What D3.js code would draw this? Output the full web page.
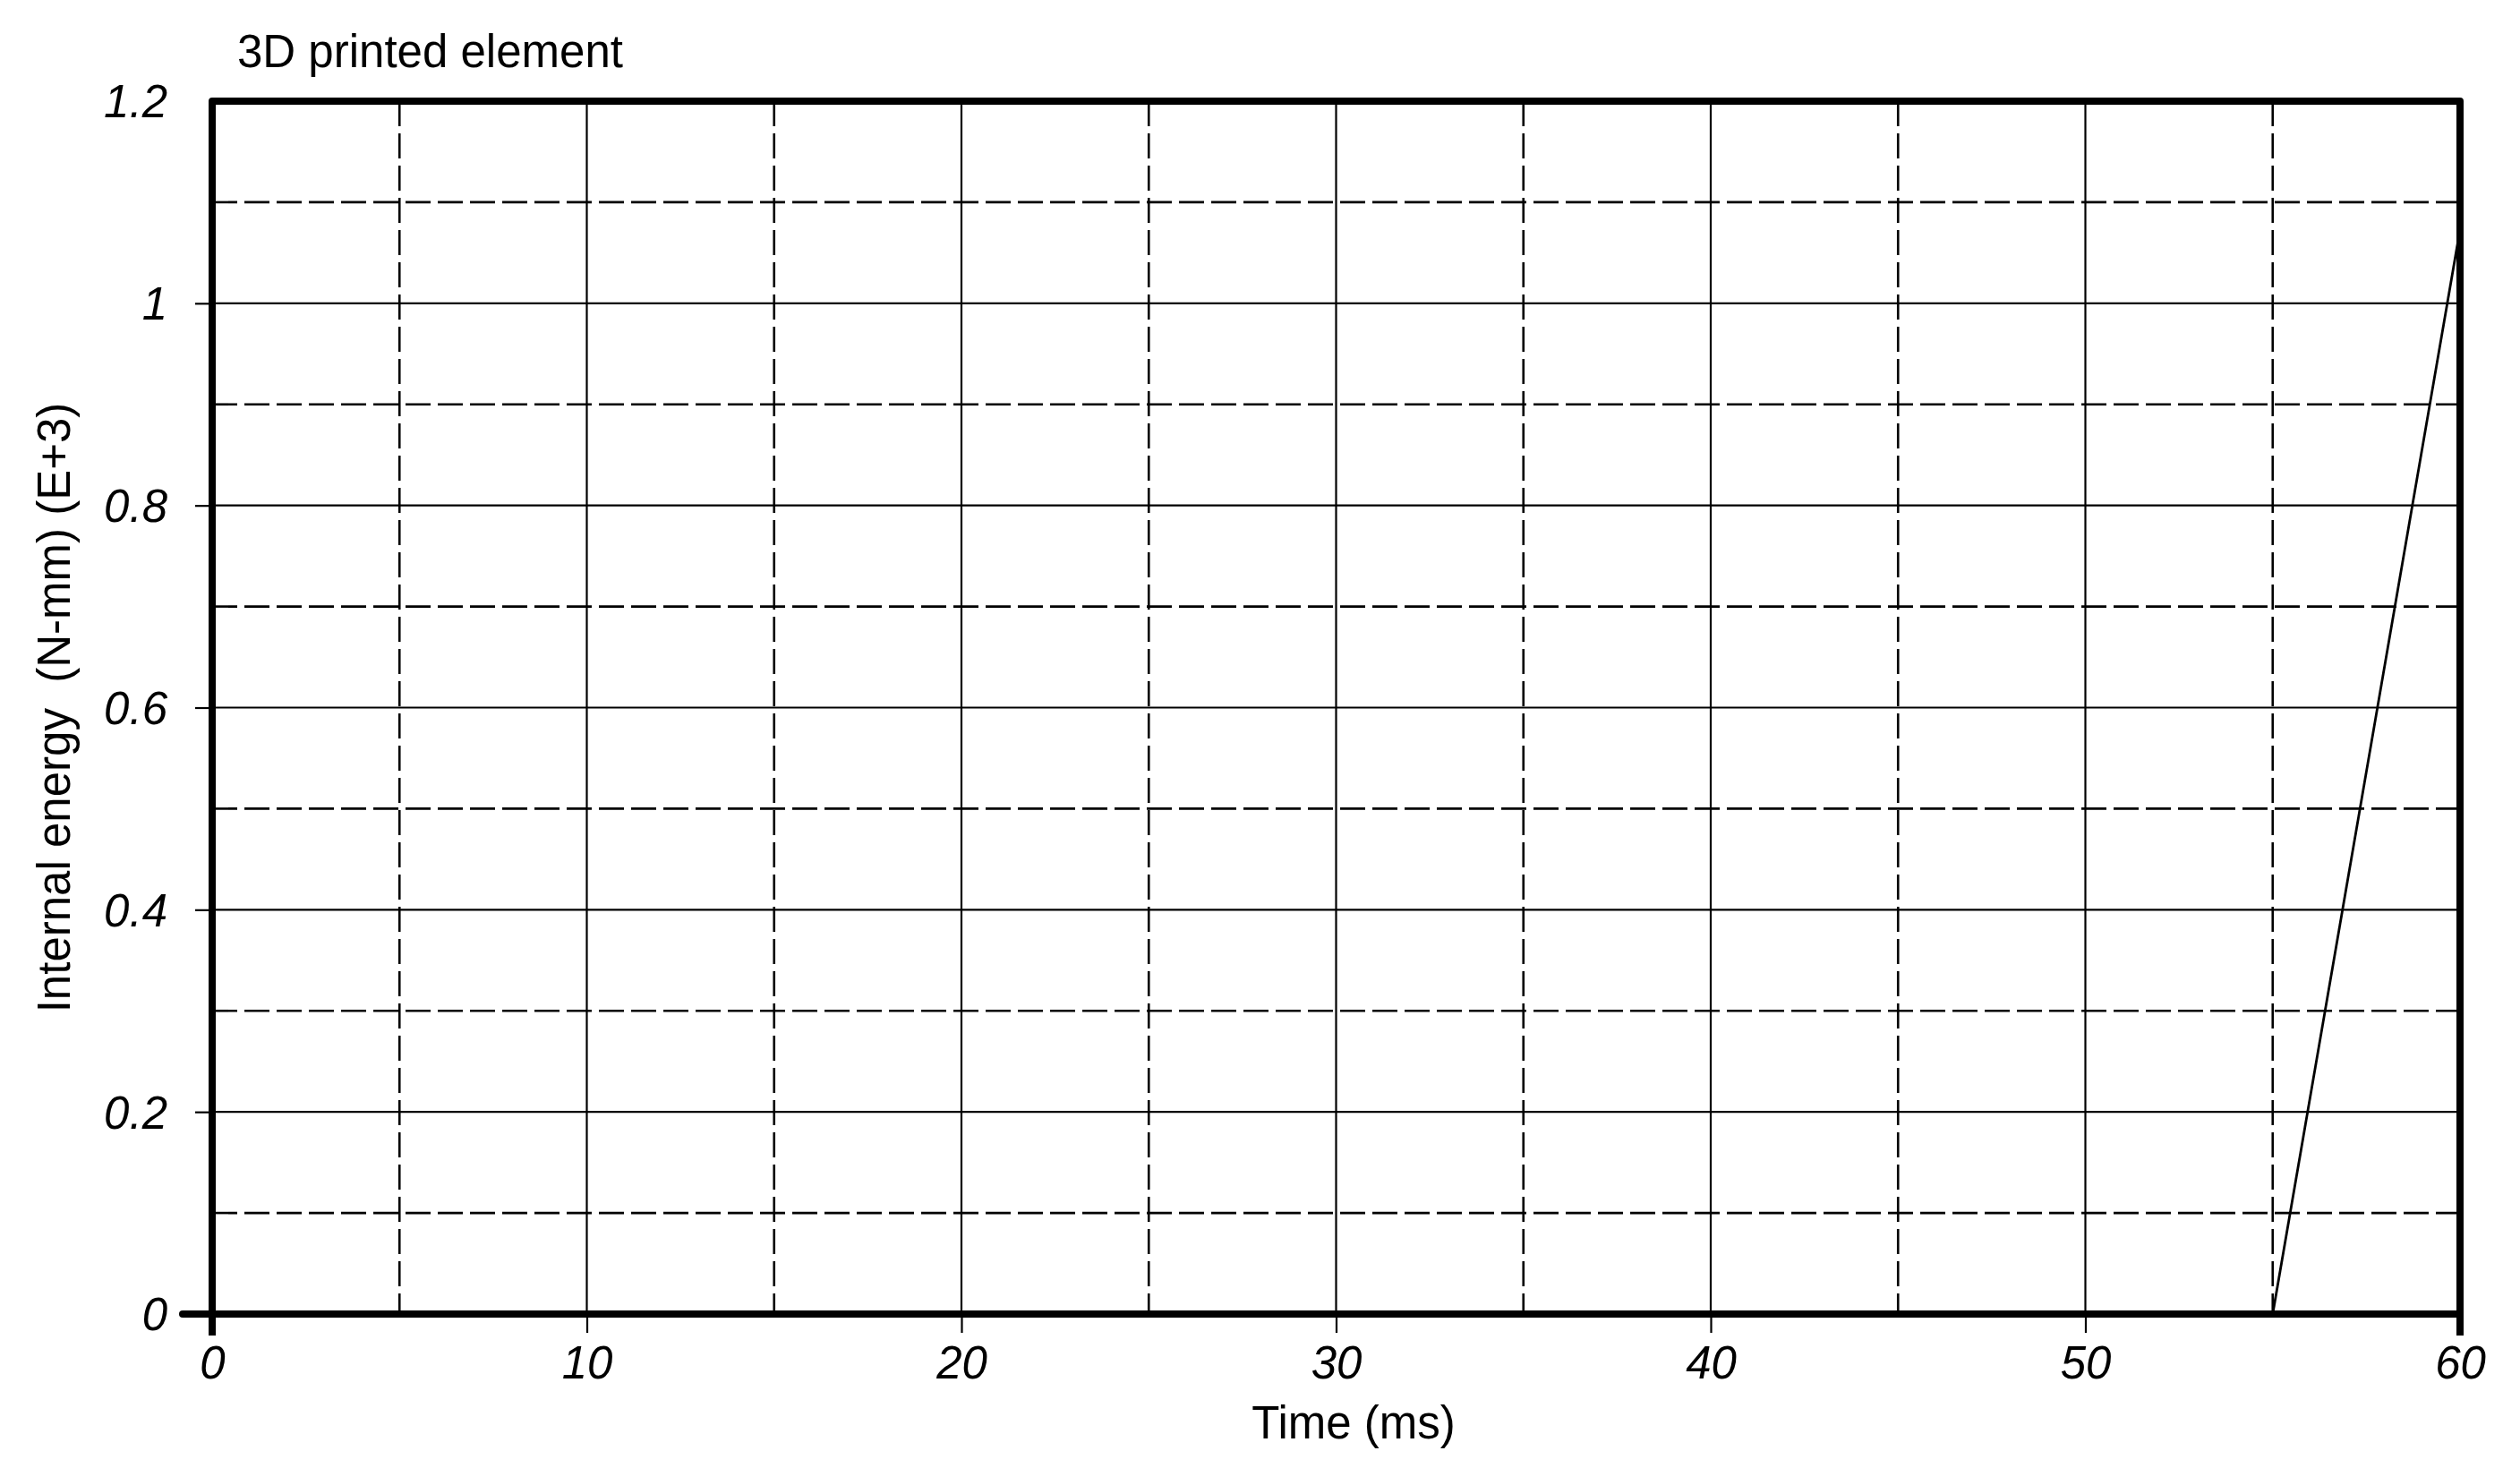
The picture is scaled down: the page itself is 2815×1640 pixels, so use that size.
<!DOCTYPE html>
<html>
<head>
<meta charset="utf-8">
<script src="https://cdn.jsdelivr.net/npm/d3@7"></script>
<style>
  html, body { margin: 0; padding: 0; background: #fff; }
  svg { display: block; }
  text { font-family: "Liberation Sans", Arial, sans-serif; fill: #000; }
</style>
</head>
<body>
<svg id="chart"></svg>
<script>
// Data
const TIME = [55, 60];          // ms
const ENERGY = [0, 1.073];      // N-mm (E+3)

const X_TICKS = [0, 10, 20, 30, 40, 50, 60];
const X_MINOR = [5, 15, 25, 35, 45, 55];
const Y_TICKS = [0, 0.2, 0.4, 0.6, 0.8, 1, 1.2];
const Y_MINOR = [0.1, 0.3, 0.5, 0.7, 0.9, 1.1];

const TITLE = '3D printed element';
const X_LABEL = 'Time (ms)';
const Y_LABEL = 'Internal energy  (N-mm) (E+3)';

// Layout
const W = 2815, H = 1640;
const plot = {left: 237, right: 2748, top: 113, bottom: 1468};

const svg = d3.select('#chart')
  .attr('width', W)
  .attr('height', H);

const x = d3.scaleLinear([0, 60], [plot.left, plot.right]);
const y = d3.scaleLinear([0, 1.2], [plot.bottom, plot.top]);

// minor grid (dashed)
svg.append('g')
  .selectAll('line')
  .data(X_MINOR).enter()
  .append('line')
    .attr('x1', d => x(d)).attr('x2', d => x(d))
    .attr('y1', plot.top).attr('y2', plot.bottom)
    .attr('stroke', '#000')
    .attr('stroke-width', 2.6)
    .attr('stroke-dasharray', '28,8');

svg.append('g')
  .selectAll('line')
  .data(Y_MINOR).enter()
  .append('line')
    .attr('x1', plot.left).attr('x2', plot.right)
    .attr('y1', d => y(d)).attr('y2', d => y(d))
    .attr('stroke', '#000')
    .attr('stroke-width', 2.6)
    .attr('stroke-dasharray', '28,8');

// major grid (solid)
svg.append('g')
  .selectAll('line')
  .data(X_TICKS.slice(1, -1)).enter()
  .append('line')
    .attr('x1', d => x(d)).attr('x2', d => x(d))
    .attr('y1', plot.top).attr('y2', plot.bottom)
    .attr('stroke', '#000')
    .attr('stroke-width', 2.2);

svg.append('g')
  .selectAll('line')
  .data(Y_TICKS.slice(1, -1)).enter()
  .append('line')
    .attr('x1', plot.left).attr('x2', plot.right)
    .attr('y1', d => y(d)).attr('y2', d => y(d))
    .attr('stroke', '#000')
    .attr('stroke-width', 2.2);

// axes
const xAxis = svg.append('g')
  .attr('transform', `translate(0, ${plot.bottom})`)
  .call(d3.axisBottom(x).tickValues(X_TICKS).tickSize(21).tickFormat(d3.format('d')));

const yAxis = svg.append('g')
  .attr('transform', `translate(${plot.left}, 0)`)
  .call(d3.axisLeft(y).tickValues(Y_TICKS).tickSize(19).tickPadding(31).tickFormat(d => d3.format('~g')(d)));

[xAxis, yAxis].forEach(g => {
  g.select('.domain').remove();
  g.selectAll('.tick line').attr('stroke', '#000').attr('stroke-width', 2.2);
  g.selectAll('.tick text')
    .attr('font-family', '"Liberation Sans", Arial, sans-serif')
    .attr('font-size', 51)
    .attr('font-style', 'italic')
    .attr('fill', '#000');
});

xAxis.selectAll('.tick text').attr('y', 72).attr('dy', 0);
yAxis.selectAll('.tick text').attr('dy', '0.35em');
// no outer tick at the top of the y axis
yAxis.selectAll('.tick').filter(d => d === 1.2).select('line').remove();

// frame
svg.append('path')
  .attr('d', `M${x(0)},${plot.bottom + 24} L${x(0)},${plot.top} L${x(60)},${plot.top} L${x(60)},${plot.bottom + 24}`)
  .attr('fill', 'none')
  .attr('stroke', '#000')
  .attr('stroke-width', 8)
  .attr('stroke-linejoin', 'round');

svg.append('line')
  .attr('x1', plot.left - 33).attr('x2', plot.right)
  .attr('y1', y(0)).attr('y2', y(0))
  .attr('stroke', '#000')
  .attr('stroke-width', 8)
  .attr('stroke-linecap', 'round');

// data line
const line = d3.line()
  .x(d => x(d[0]))
  .y(d => y(d[1]));

svg.append('path')
  .datum(d3.zip(TIME, ENERGY))
  .attr('fill', 'none')
  .attr('stroke', '#000')
  .attr('stroke-width', 2.8)
  .attr('d', line);

// texts
svg.append('text')
  .attr('x', 265)
  .attr('y', 75)
  .attr('font-size', 51)
  .text(TITLE);

svg.append('text')
  .attr('x', 1512)
  .attr('y', 1607)
  .attr('text-anchor', 'middle')
  .attr('font-size', 51)
  .text(X_LABEL);

svg.append('text')
  .attr('transform', `translate(78, ${(plot.top + plot.bottom) / 2}) rotate(-90)`)
  .attr('text-anchor', 'middle')
  .attr('font-size', 51)
  .style('white-space', 'pre')
  .text(Y_LABEL);
</script>
</body>
</html>
